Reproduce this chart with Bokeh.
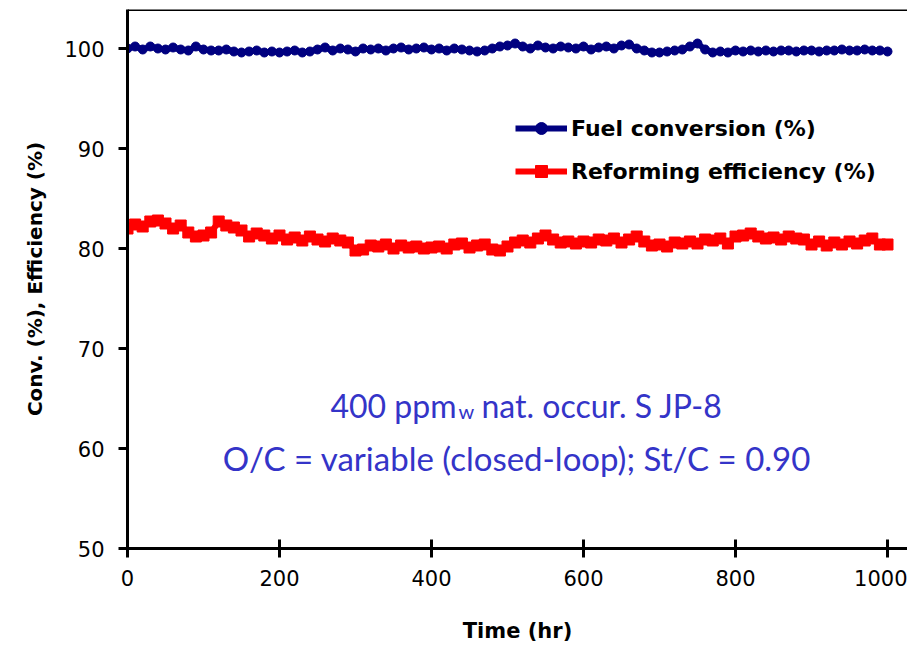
from bokeh.plotting import figure
from bokeh.models import Range1d, FixedTicker, Span, Legend, LegendItem, Label
from bokeh.embed import file_html
from bokeh.resources import INLINE

# ---- data ----
hours = [0, 10, 20, 30, 40, 50, 60, 70, 80, 90,
         100, 110, 120, 130, 140, 150, 160, 170, 180, 190,
         200, 210, 220, 230, 240, 250, 260, 270, 280, 290,
         300, 310, 320, 330, 340, 350, 360, 370, 380, 390,
         400, 410, 420, 430, 440, 450, 460, 470, 480, 490,
         500, 510, 520, 530, 540, 550, 560, 570, 580, 590,
         600, 610, 620, 630, 640, 650, 660, 670, 680, 690,
         700, 710, 720, 730, 740, 750, 760, 770, 780, 790,
         800, 810, 820, 830, 840, 850, 860, 870, 880, 890,
         900, 910, 920, 930, 940, 950, 960, 970, 980, 990, 1000]

fuel_conversion = [100.0, 100.2, 99.9, 100.2, 100.0, 99.9, 100.1, 99.9, 99.8, 100.2,
                   99.9, 99.8, 99.8, 99.9, 99.7, 99.6, 99.7, 99.8, 99.6, 99.7,
                   99.6, 99.7, 99.8, 99.6, 99.7, 99.9, 100.1, 99.8, 100.0, 99.9,
                   99.7, 100.0, 99.9, 100.0, 99.8, 100.0, 100.1, 99.9, 100.0, 100.1,
                   99.9, 100.0, 99.8, 100.0, 99.9, 99.8, 99.7, 99.8, 100.0, 100.2,
                   100.3, 100.5, 100.2, 100.0, 100.3, 100.1, 100.0, 100.2, 100.1, 100.0,
                   100.2, 99.9, 100.1, 100.2, 100.0, 100.3, 100.4, 100.0, 99.8, 99.6,
                   99.6, 99.7, 99.8, 99.9, 100.2, 100.5, 99.9, 99.6, 99.7, 99.6,
                   99.8, 99.7, 99.8, 99.7, 99.8, 99.7, 99.8, 99.8, 99.7, 99.8,
                   99.8, 99.7, 99.8, 99.8, 99.9, 99.8, 99.8, 99.9, 99.8, 99.8, 99.7]

reforming_efficiency = [82.0, 82.4, 82.2, 82.7, 82.8, 82.5, 82.0, 82.3, 81.6, 81.2,
                        81.3, 81.6, 82.7, 82.3, 82.1, 81.8, 81.2, 81.5, 81.3, 81.0,
                        81.3, 80.9, 81.1, 80.8, 81.2, 80.9, 80.7, 81.0, 80.8, 80.6,
                        79.8, 79.9, 80.3, 80.2, 80.4, 80.0, 80.3, 80.1, 80.2, 80.0,
                        80.1, 80.2, 80.0, 80.4, 80.5, 80.1, 80.3, 80.4, 79.9, 79.8,
                        80.2, 80.6, 80.8, 80.6, 81.0, 81.3, 80.9, 80.6, 80.7, 80.5,
                        80.7, 80.6, 80.9, 80.8, 81.0, 80.6, 80.9, 81.2, 80.7, 80.3,
                        80.4, 80.2, 80.6, 80.5, 80.7, 80.5, 80.9, 80.8, 81.0, 80.5,
                        81.2, 81.3, 81.5, 81.2, 81.0, 81.1, 80.9, 81.2, 81.0, 80.9,
                        80.4, 80.7, 80.3, 80.6, 80.4, 80.7, 80.5, 80.8, 81.0, 80.4, 80.4]

x_ticks = [0, 200, 400, 600, 800, 1000]
y_ticks = [50, 60, 70, 80, 90, 100]
series_names = ["Fuel conversion (%)", "Reforming efficiency (%)"]
note_line1 = ["400 ppm", "w", "nat. occur. S JP-8"]
note_line2 = "O/C = variable (closed-loop); St/C = 0.90"

p = figure(width=907, height=645, output_backend="svg", toolbar_location=None,
           x_range=Range1d(0, 1026.3), y_range=Range1d(50, 103.9),
           min_border_left=127, min_border_right=0, min_border_top=9, min_border_bottom=97)
p.outline_line_color = None
p.grid.visible = False
p.background_fill_color = "white"
p.border_fill_color = "white"

# axes
for ax in (p.xaxis, p.yaxis):
    ax.axis_line_width = 3
    ax.axis_line_color = "black"
    ax.major_tick_line_width = 3
    ax.major_tick_line_color = "black"
    ax.minor_tick_line_color = None
    ax.major_label_text_font = "DejaVu Sans"
    ax.major_label_text_font_size = "21px"
    ax.major_label_text_color = "black"
    ax.axis_label_text_font = "DejaVu Sans"
    ax.axis_label_text_font_style = "bold"
    ax.axis_label_text_font_size = "20px"
    ax.axis_label_text_color = "black"

p.xaxis.ticker = FixedTicker(ticks=x_ticks)
p.yaxis.ticker = FixedTicker(ticks=y_ticks)
p.xaxis.major_tick_in = 9
p.xaxis.major_tick_out = 9
p.yaxis.major_tick_in = 0
p.yaxis.major_tick_out = 9
p.xaxis.major_label_standoff = 12
p.yaxis.major_label_standoff = 14
p.xaxis.axis_label = "Time (hr)"
p.xaxis.axis_label_text_font_size = "21px"
p.yaxis.axis_label = "Conv. (%), Efficiency (%)"
p.xaxis.axis_label_standoff = 30
p.yaxis.axis_label_standoff = 14

p.add_layout(Span(location=103.9, dimension="width", line_color="black", line_width=3))

# series
l1 = p.line(hours, fuel_conversion, line_color="#000080", line_width=6)
m1 = p.scatter(hours, fuel_conversion, marker="circle", size=9,
               fill_color="#000080", line_color="#000080")
l2 = p.line(hours, reforming_efficiency, line_color="#FF0000", line_width=6)
m2 = p.scatter(hours, reforming_efficiency, marker="square", size=11,
               fill_color="#FF0000", line_color="#FF0000")

legend = Legend(items=[LegendItem(label=series_names[0], renderers=[l1, m1]),
                       LegendItem(label=series_names[1], renderers=[l2, m2])],
                location=(388, 362), orientation="vertical",
                glyph_width=52, glyph_height=30, spacing=13, padding=0, margin=0,
                label_standoff=4, label_text_font="DejaVu Sans",
                label_text_font_style="bold", label_text_font_size="22px",
                label_text_color="black", border_line_color=None,
                background_fill_alpha=0)
p.add_layout(legend)

# annotation text
note_color = "#3434C8"
p.add_layout(Label(x=425, y=64.3, x_offset=6, text=note_line1[0], text_align="right",
                   text_baseline="alphabetic", text_font="Lato", text_font_size="32px",
                   text_color=note_color))
p.add_layout(Label(x=425, y=63.8, x_offset=8, text=note_line1[1], text_align="left",
                   text_baseline="alphabetic", text_font="Lato", text_font_size="20px",
                   text_color=note_color))
p.add_layout(Label(x=425, y=64.3, x_offset=31, text=note_line1[2], text_align="left",
                   text_baseline="alphabetic", text_font="Lato", text_font_size="32px",
                   text_color=note_color))
p.add_layout(Label(x=512.5, y=59.1, text=note_line2, text_align="center",
                   text_baseline="alphabetic", text_font="Lato", text_font_size="33px",
                   text_color=note_color))

open("out.html", "w").write(file_html(p, INLINE))
